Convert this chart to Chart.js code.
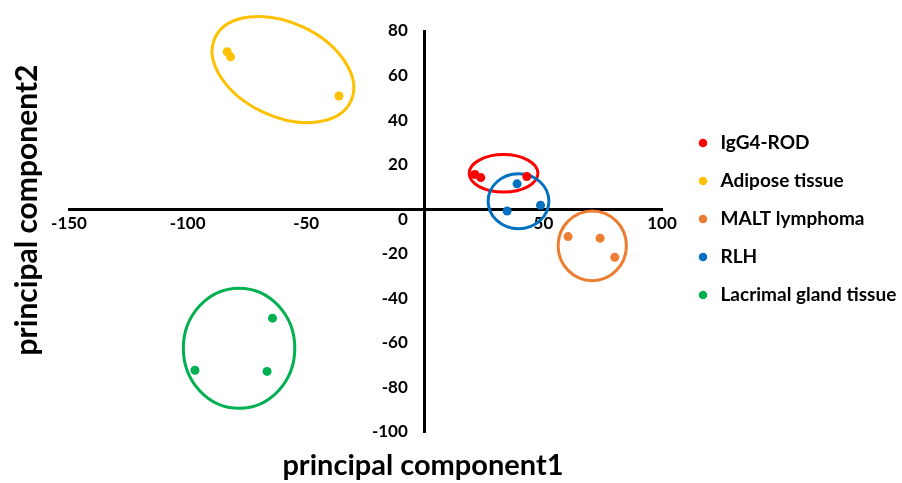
<!DOCTYPE html>
<html>
<head>
<meta charset="utf-8">
<script src="https://cdn.jsdelivr.net/npm/chart.js@4.4.1/dist/chart.umd.min.js"></script>
<style>
  html, body { margin: 0; padding: 0; background: #fff; }
</style>
</head>
<body>
<canvas id="pca" width="902" height="483"></canvas>
<script>
/* ---------- du lieu ---------- */
const groupNames = ['IgG4-ROD', 'Adipose tissue', 'MALT lymphoma', 'RLH', 'Lacrimal gland tissue'];
const groupColors = ['#FF0000', '#FFC000', '#ED7D31', '#0070C0', '#00B050'];

// PC1 / PC2 cua tung nhom
const igg4PC1 = [21.1, 23.6, 43.0];
const igg4PC2 = [15.6, 14.2, 14.7];
const adiposePC1 = [-83.3, -81.9, -36.2];
const adiposePC2 = [70.7, 68.4, 50.8];
const maltPC1 = [60.4, 73.9, 80.1];
const maltPC2 = [-12.3, -13.0, -21.6];
const rlhPC1 = [38.9, 48.8, 34.7];
const rlhPC2 = [11.4, 1.8, -0.8];
const lacrimalPC1 = [-64.2, -96.9, -66.5];
const lacrimalPC2 = [-48.9, -72.3, -72.8];

// vong elip quanh moi nhom (tam, ban kinh theo don vi PC1, goc nghieng)
const ellipseCX = [33.2, -59.8, 70.6, 39.5, -78.3];
const ellipseCY = [16.1, 62.7, -16.4, 3.6, -62.4];
const ellipseRX = [14.5, 31.6, 14.4, 12.8, 23.5];
const ellipseRY = [7.9, 19.8, 14.7, 11.6, 25.3];
const ellipseTilt = [0, 25, 0, 0, 0];

// truc
const xTicks = [-150, -100, -50, 0, 50, 100];
const yTicks = [-100, -80, -60, -40, -20, 0, 20, 40, 60, 80];
const xTitle = 'principal component1';
const yTitle = 'principal component2';

/* ---------- dataset ---------- */
const pc1 = [igg4PC1, adiposePC1, maltPC1, rlhPC1, lacrimalPC1];
const pc2 = [igg4PC2, adiposePC2, maltPC2, rlhPC2, lacrimalPC2];

const datasets = groupNames.map((name, i) => ({
  label: name,
  data: pc1[i].map((x, k) => ({ x: x, y: pc2[i][k] })),
  backgroundColor: groupColors[i],
  borderColor: groupColors[i],
  pointRadius: 4.5,
  pointHoverRadius: 4.5,
  borderWidth: 0
}));

/* ---------- plugin: vong elip ---------- */
const ellipsePlugin = {
  id: 'ellipses',
  beforeDatasetsDraw(chart) {
    const { ctx, scales: { x, y } } = chart;
    const unit = Math.abs(x.getPixelForValue(1) - x.getPixelForValue(0));
    ctx.save();
    ctx.lineWidth = 3;
    groupNames.forEach((name, i) => {
      ctx.strokeStyle = groupColors[i];
      ctx.beginPath();
      ctx.ellipse(
        x.getPixelForValue(ellipseCX[i]),
        y.getPixelForValue(ellipseCY[i]),
        ellipseRX[i] * unit,
        ellipseRY[i] * unit,
        ellipseTilt[i] * Math.PI / 180,
        0, Math.PI * 2
      );
      ctx.stroke();
    });
    ctx.restore();
  }
};

/* ---------- plugin: tieu de truc ---------- */
const axisTitlePlugin = {
  id: 'axisTitles',
  afterDraw(chart) {
    const ctx = chart.ctx;
    ctx.save();
    ctx.fillStyle = '#000';
    ctx.textAlign = 'center';
    ctx.textBaseline = 'middle';
    ctx.font = 'bold 29px Lato';
    ctx.fillText(xTitle, 423, 466);
    ctx.translate(27, 210);
    ctx.rotate(-Math.PI / 2);
    ctx.font = 'bold 30px Lato';
    ctx.fillText(yTitle, 0, 0);
    ctx.restore();
  }
};

// day legend sang phai / xuong duoi cho giong hinh goc
const legendNudge = {
  id: 'legendNudge',
  afterLayout(chart) {
    const lg = chart.legend;
    lg.left += 14;
    lg.right += 14;
    lg.top += 83.5;
  }
};

const tickFont = { family: 'Lato', size: 17, weight: 'bold' };
const gap = '\u2002\u2002'; // khoang trong giua nhan truc y va truc

new Chart(document.getElementById('pca'), {
  type: 'scatter',
  data: { datasets },
  options: {
    responsive: false,
    animation: false,
    layout: { padding: { left: 69, top: 31, right: 0, bottom: 51 } },
    plugins: {
      tooltip: { enabled: false },
      legend: {
        position: 'right',
        align: 'start',
        maxWidth: 240,
        labels: {
          usePointStyle: true,
          pointStyle: 'circle',
          boxWidth: 16,
          boxHeight: 6,
          padding: 19,
          color: '#000',
          font: { family: 'Lato', size: 19, weight: 'bold' }
        }
      }
    },
    scales: {
      x: {
        type: 'linear',
        position: { y: 0 },
        min: xTicks[0],
        max: xTicks[xTicks.length - 1],
        afterBuildTicks: s => { s.ticks = xTicks.map(v => ({ value: v })); },
        afterFit: s => { s.height = 0; s.paddingRight = 240; },
        grid: { display: false, drawTicks: false },
        border: { display: true, color: '#000', width: 3 },
        ticks: {
          font: tickFont,
          color: '#000',
          padding: 4,
          maxRotation: 0,
          callback: v => (v === 0 ? '' : v)
        }
      },
      y: {
        type: 'linear',
        position: { x: 0 },
        min: yTicks[0],
        max: yTicks[yTicks.length - 1],
        afterBuildTicks: s => { s.ticks = yTicks.map(v => ({ value: v })); },
        afterFit: s => { s.width = 0; },
        grid: { display: false, drawTicks: false },
        border: { display: true, color: '#000', width: 3 },
        ticks: {
          font: tickFont,
          color: '#000',
          callback: v => (v === 0 ? ['', '0' + gap] : v + gap)
        }
      }
    }
  },
  plugins: [ellipsePlugin, axisTitlePlugin, legendNudge]
});
</script>
</body>
</html>
